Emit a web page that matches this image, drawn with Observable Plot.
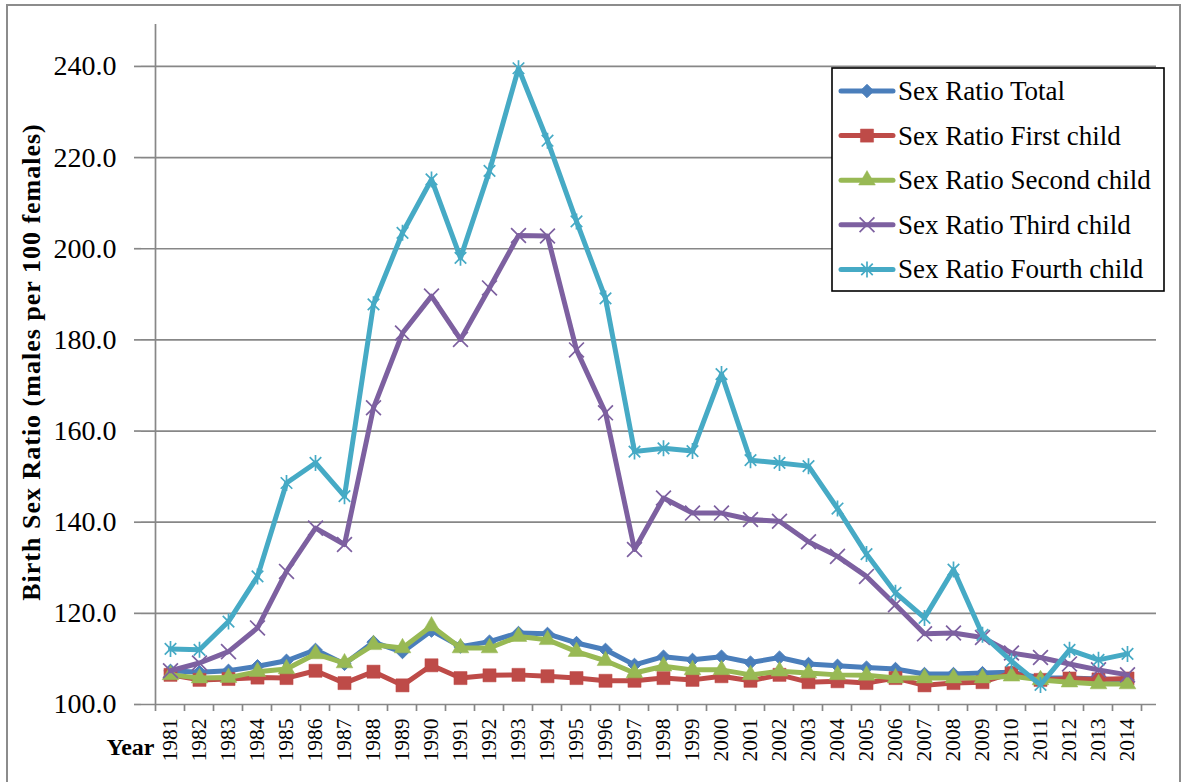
<!DOCTYPE html>
<html><head><meta charset="utf-8">
<script src="https://cdn.jsdelivr.net/npm/d3@7"></script>
<script src="https://cdn.jsdelivr.net/npm/@observablehq/plot@0.6"></script>
<style>
html,body{margin:0;padding:0;background:#fff;}
body{width:1185px;height:782px;overflow:hidden;position:relative;font-family:"Liberation Serif",serif;}
#chart{position:absolute;left:0;top:0;}
#frame{position:absolute;left:6px;top:4px;width:1175px;height:800px;border:2px solid #8c8c8c;box-sizing:border-box;}
#legend{position:absolute;left:831px;top:67px;}
</style></head><body>
<div id="chart"></div>
<div id="frame"></div>
<div id="legend"></div>
<script>
// ---- data ----
const years = [1981,1982,1983,1984,1985,1986,1987,1988,1989,1990,1991,1992,1993,1994,1995,1996,1997,1998,1999,2000,2001,2002,2003,2004,2005,2006,2007,2008,2009,2010,2011,2012,2013,2014];
const seriesNames = ["Sex Ratio Total","Sex Ratio First child","Sex Ratio Second child","Sex Ratio Third child","Sex Ratio Fourth child"];
const total  = [107.4,107.1,107.4,108.4,109.6,112.0,108.9,113.7,111.5,116.2,112.7,113.8,115.7,115.5,113.5,112.0,108.7,110.5,109.8,110.5,109.2,110.3,108.9,108.5,108.1,107.8,106.7,106.7,106.9,107.1,105.8,105.8,105.6,105.4];
const first  = [106.5,105.4,105.6,105.9,105.8,107.4,104.7,107.2,104.2,108.6,105.8,106.4,106.5,106.2,105.8,105.2,105.2,105.8,105.4,106.2,105.2,106.5,104.9,105.1,104.7,105.8,104.2,104.7,104.9,106.9,105.4,105.7,105.5,105.7];
const second = [106.5,105.8,105.9,107.2,107.8,111.1,109.1,113.1,112.4,117.2,112.4,112.4,114.9,114.2,111.6,109.6,106.9,108.4,107.6,107.6,106.5,107.3,106.9,106.5,106.4,105.8,105.8,105.8,105.8,106.2,105.4,104.9,104.5,104.5];
const third  = [107.4,109.1,111.6,116.8,129.2,138.7,135.1,165.1,181.5,189.6,180.1,191.4,202.9,202.8,177.8,164.0,134.0,145.3,142.0,142.0,140.6,140.2,135.7,132.5,128.1,121.9,115.5,115.7,114.7,111.3,110.3,108.9,107.6,106.5];
const fourth = [112.2,112.0,118.2,128.1,148.6,153.0,145.7,187.8,203.5,215.2,198.0,217.1,239.6,223.7,206.0,189.1,155.5,156.2,155.6,172.5,153.6,153.0,152.3,143.0,133.0,124.5,119.0,129.6,115.3,109.5,104.3,112.0,109.8,111.1];
const yTicks = [100,120,140,160,180,200,220,240];
const yLabel = "Birth Sex Ratio (males per 100 females)";
const xLabel = "Year";

// ---- styles ----
const colors = ["#4A7EBB","#BE4B48","#98B954","#7D60A0","#46AAC5"];
const excelStar = {draw(ctx, size){const r=Math.sqrt(size/Math.PI);const d=r*0.72;ctx.moveTo(0,-r);ctx.lineTo(0,r);ctx.moveTo(-d,-d);ctx.lineTo(d,d);ctx.moveTo(-d,d);ctx.lineTo(d,-d);}};
const markerStyles = [
  {symbol:"diamond2", r:6.0, filled:true, sw:1},
  {symbol:"square", r:7.4, filled:true, sw:0.5},
  {symbol:"triangle", r:6.2, filled:true, sw:0.5},
  {symbol:"times", r:6.8, filled:false, sw:1.7},
  {symbol:excelStar, r:8.0, filled:false, sw:1.7}
];
const seriesValues = [total, first, second, third, fourth];
const LINE_W = 5;

const seriesMarks = [];
seriesValues.forEach((vals, i) => {
  const data = years.map((y, j) => ({year: y, value: vals[j], series: seriesNames[i]}));
  const ms = markerStyles[i];
  seriesMarks.push(Plot.line(data, {x:"year", y:"value", stroke:colors[i], strokeWidth:LINE_W, strokeLinejoin:"round", strokeLinecap:"round"}));
  seriesMarks.push(Plot.dot(data, {x:"year", y:"value", symbol:ms.symbol, r:ms.r,
    fill: ms.filled ? colors[i] : "none", stroke: colors[i], strokeWidth: ms.sw}));
});

const chart = Plot.plot({
  width:1185, height:782,
  marginLeft:141, marginRight:29, marginTop:24, marginBottom:78,
  style:{fontFamily:"Liberation Serif", fontSize:"20px", color:"#000", background:"transparent"},
  x:{type:"point", domain:years, padding:0.5},
  y:{domain:[100,249.2]},
  marks:[
    Plot.gridY(yTicks, {stroke:"#878787", strokeOpacity:1, strokeWidth:1.7}),
    Plot.axisY(yTicks, {tickSize:7, tickPadding:18, tickFormat:d=>d.toFixed(1), fontSize:28, label:null}),
    Plot.axisX(years, {tickSize:0, tickPadding:14, tickRotate:-90, tickFormat:d=>String(d), fontSize:21.5, label:null}),
    ...seriesMarks
  ]
});
document.getElementById("chart").appendChild(chart);

// axis lines / category boundary ticks from the library's scales
const xs = chart.scale("x"), ys = chart.scale("y");
const x0 = xs.apply(years[0]), step = xs.apply(years[1]) - x0;
const yTop = ys.apply(ys.domain[1]), yBot = ys.apply(yTicks[0]);
const svg = d3.select(chart);
svg.selectAll('g[aria-label="y-axis tick"]').attr("stroke","#878787").attr("stroke-width",1.7);
svg.selectAll('g[aria-label="y-axis tick label"]').attr("font-size",28).attr("font-family","Liberation Serif")
  .selectAll("text").style("font-size","28px").style("font-family","Liberation Serif");
svg.selectAll('g[aria-label="x-axis tick label"]').attr("font-size",21.5).attr("font-family","Liberation Serif")
  .selectAll("text").style("font-size","21.5px").style("font-family","Liberation Serif");
const ag = svg.append("g").attr("stroke","#878787").attr("stroke-width",1.7);
ag.append("line").attr("x1",x0-step/2).attr("x2",x0-step/2).attr("y1",yTop).attr("y2",yBot);
for (let i=0;i<=years.length;i++){
  const bx = x0 - step/2 + i*step;
  ag.append("line").attr("x1",bx).attr("x2",bx).attr("y1",yBot).attr("y2",yBot+7);
}
ag.lower();
const cx = 31, cy = (yTop + yBot)/2 - 2;
svg.append("text").attr("x",cx).attr("y",cy).attr("transform",`rotate(-90,${cx},${cy})`)
  .attr("text-anchor","middle").attr("dominant-baseline","central")
  .style("font-family","Liberation Serif").style("font-weight","bold").style("font-size","26px")
  .attr("letter-spacing","1px").text(yLabel);
svg.append("text").attr("x",x0-step/2-1).attr("y",yBot+51).attr("text-anchor","end")
  .style("font-family","Liberation Serif").style("font-weight","bold").style("font-size","24px").text(xLabel);

// legend
const lw = 333, lh = 224, rowH = 44.6;
const lg = d3.select("#legend").append("svg").attr("width",lw+2).attr("height",lh+2);
lg.append("rect").attr("x",1).attr("y",1).attr("width",lw-1).attr("height",lh-1).attr("fill","#fff").attr("stroke","#000").attr("stroke-width",1.6);
const symMap = {"diamond2":d3.symbolDiamond2,"square":d3.symbolSquare,"triangle":d3.symbolTriangle,"times":d3.symbolTimes};
seriesNames.forEach((name,i)=>{
  const yy = 24 + i*rowH;
  const ms = markerStyles[i];
  lg.append("line").attr("x1",10).attr("x2",62).attr("y1",yy).attr("y2",yy)
    .attr("stroke",colors[i]).attr("stroke-width",LINE_W).attr("stroke-linecap","round");
  const type = typeof ms.symbol === "string" ? symMap[ms.symbol] : ms.symbol;
  lg.append("path").attr("transform",`translate(36,${yy})`)
    .attr("d", d3.symbol(type, Math.PI*ms.r*ms.r)())
    .attr("fill", ms.filled ? colors[i] : "none").attr("stroke",colors[i]).attr("stroke-width",ms.sw);
  lg.append("text").attr("x",67).attr("y",yy).attr("dominant-baseline","central")
    .style("font-family","Liberation Serif").style("font-size","27px").text(name);
});
</script>
</body></html>
